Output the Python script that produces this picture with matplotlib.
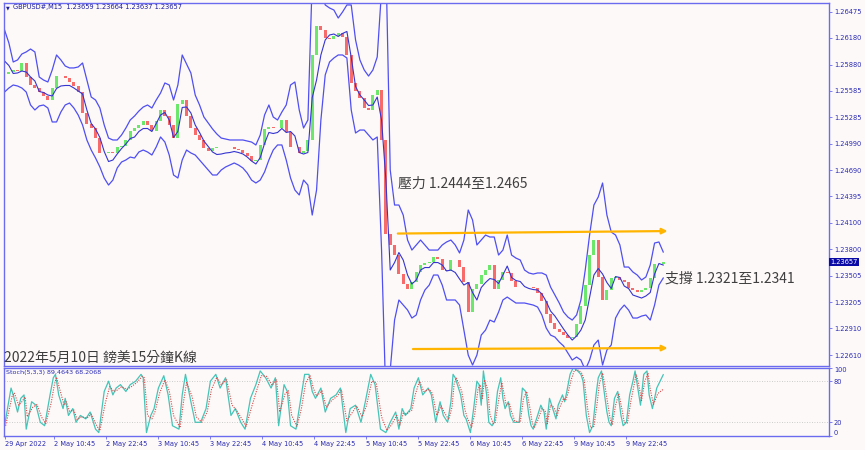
import matplotlib
matplotlib.use("Agg")
import matplotlib.pyplot as plt
from matplotlib.transforms import blended_transform_factory
import numpy as np

plt.rcParams['font.family'] = ['DejaVu Sans']

# GBPUSD M15, one sample per hour (every 4th bar)
bar_step = 4
closes = [
    1.25774, 1.25796, 1.25819, 1.25808, 1.25898, 1.25740, 1.25650, 1.25616, 1.25571, 1.25526,
    1.25481, 1.25616, 1.25751, 1.25751, 1.25729, 1.25684, 1.25639, 1.25571, 1.25335, 1.25211,
    1.25166, 1.25053, 1.24885, 1.24885, 1.24896, 1.24885, 1.24952, 1.24963, 1.25031, 1.25132,
    1.25166, 1.25200, 1.25245, 1.25200, 1.25132, 1.25245, 1.25369, 1.25301, 1.25200, 1.25053,
    1.25436, 1.25481, 1.25301, 1.25166, 1.25087, 1.25031, 1.24941, 1.24907, 1.24941, 1.24952,
    1.24952, 1.24952, 1.24952, 1.24930, 1.24918, 1.24885, 1.24851, 1.24794, 1.24806, 1.24975,
    1.25155, 1.25177, 1.25166, 1.25166, 1.25256, 1.25121, 1.24952, 1.24952, 1.24885, 1.24907,
    1.25031, 1.25988, 1.26314, 1.26269, 1.26179, 1.26168, 1.26202, 1.26235, 1.26190, 1.25988,
    1.25673, 1.25583, 1.25504, 1.25391, 1.25369, 1.25537, 1.25594, 1.25031, 1.23973, 1.23849,
    1.23736, 1.23522, 1.23410, 1.23353, 1.23432, 1.23545, 1.23624, 1.23646, 1.23657, 1.23714,
    1.23691, 1.23567, 1.23556, 1.23680, 1.23680, 1.23601, 1.23432, 1.23095, 1.23353, 1.23410,
    1.23511, 1.23567, 1.23624, 1.23353, 1.23455, 1.23545, 1.23534, 1.23444, 1.23376, 1.23376,
    1.23376, 1.23376, 1.23365, 1.23308, 1.23218, 1.23072, 1.22971, 1.22903, 1.22869, 1.22836,
    1.22802, 1.22813, 1.22959, 1.23162, 1.23398, 1.23736, 1.23905, 1.23489, 1.23230, 1.23342,
    1.23477, 1.23489, 1.23455, 1.23432, 1.23365, 1.23342, 1.23320, 1.23342, 1.23365, 1.23477,
    1.23635, 1.23635, 1.23657]

upper_band = [
    1.26269, 1.26123, 1.25909, 1.25932, 1.25999, 1.26022, 1.26055, 1.26022, 1.25740, 1.25706,
    1.25684, 1.25819, 1.25988, 1.25932, 1.25864, 1.25842, 1.25842, 1.25853, 1.25898, 1.25706,
    1.25515, 1.25481, 1.25391, 1.25200, 1.25053, 1.25031, 1.25031, 1.25087, 1.25166, 1.25256,
    1.25301, 1.25357, 1.25402, 1.25425, 1.25391, 1.25481, 1.25560, 1.25673, 1.25650, 1.25481,
    1.25650, 1.25988, 1.25887, 1.25785, 1.25537, 1.25425, 1.25290, 1.25222, 1.25155, 1.25098,
    1.25053, 1.25042, 1.25031, 1.25031, 1.25031, 1.25031, 1.25020, 1.25008, 1.24975, 1.25087,
    1.25312, 1.25425, 1.25290, 1.25256, 1.25346, 1.25425, 1.25650, 1.25684, 1.25369, 1.25166,
    1.25256, 1.26832, 1.26945, 1.26720, 1.26551, 1.26517, 1.26494, 1.26404, 1.26472, 1.26551,
    1.26551, 1.26157, 1.25932, 1.25819, 1.25751, 1.25819, 1.25965, 1.26720, 1.27057, 1.24693,
    1.24299, 1.24299, 1.24186, 1.23905, 1.23792, 1.23849, 1.23905, 1.23849, 1.23792, 1.23792,
    1.23792, 1.23849, 1.23883, 1.23905, 1.23849, 1.23759, 1.23905, 1.24243, 1.24130, 1.23849,
    1.23905, 1.23961, 1.23939, 1.23939, 1.23736, 1.23792, 1.23961, 1.23736, 1.23702, 1.23680,
    1.23567, 1.23534, 1.23522, 1.23534, 1.23534, 1.23511, 1.23376, 1.23286, 1.23196, 1.23094,
    1.23038, 1.23004, 1.23061, 1.23230, 1.23567, 1.23961, 1.24299, 1.24389, 1.24547, 1.24186,
    1.23995, 1.23961, 1.23849, 1.23601, 1.23601, 1.23545, 1.23511, 1.23455, 1.23489, 1.23624,
    1.23871, 1.23883, 1.23770]

lower_band = [
    1.25571, 1.25616, 1.25650, 1.25639, 1.25616, 1.25571, 1.25425, 1.25369, 1.25414, 1.25425,
    1.25391, 1.25234, 1.25234, 1.25346, 1.25425, 1.25447, 1.25391, 1.25312, 1.25200, 1.25031,
    1.24918, 1.24828, 1.24727, 1.24603, 1.24524, 1.24580, 1.24716, 1.24783, 1.24806, 1.24839,
    1.24828, 1.24896, 1.24918, 1.24896, 1.24862, 1.24952, 1.25065, 1.25008, 1.24862, 1.24637,
    1.24603, 1.24806, 1.24918, 1.24885, 1.24862, 1.24806, 1.24749, 1.24693, 1.24637, 1.24637,
    1.24693, 1.24727, 1.24749, 1.24772, 1.24749, 1.24716, 1.24659, 1.24580, 1.24547, 1.24580,
    1.24671, 1.24806, 1.24918, 1.24975, 1.24975, 1.24806, 1.24603, 1.24468, 1.24412, 1.24580,
    1.24524, 1.24186, 1.24468, 1.25256, 1.25763, 1.25909, 1.25954, 1.25988, 1.25988, 1.25954,
    1.25369, 1.25110, 1.25143, 1.25143, 1.25087, 1.25031, 1.25065, 1.23792, 1.22104, 1.22442,
    1.23004, 1.23230, 1.23173, 1.23117, 1.23027, 1.23061, 1.23230, 1.23342, 1.23398, 1.23511,
    1.23511, 1.23398, 1.23230, 1.23230, 1.23230, 1.23173, 1.22892, 1.22610, 1.22498, 1.22610,
    1.22835, 1.22892, 1.23004, 1.22982, 1.23094, 1.23230, 1.23263, 1.23230, 1.23196, 1.23196,
    1.23196, 1.23185, 1.23173, 1.23151, 1.23061, 1.22914, 1.22835, 1.22813, 1.22757, 1.22712,
    1.22633, 1.22554, 1.22588, 1.22554, 1.22442, 1.22554, 1.22723, 1.22779, 1.22498, 1.22667,
    1.22723, 1.23027, 1.23117, 1.23173, 1.23117, 1.23027, 1.23027, 1.23049, 1.23061, 1.23004,
    1.23173, 1.23398, 1.23477]

# Stochastic(5,3,3): (bar index, value)
stoch_main = [
    (0, 15), (6, 70), (8, 60), (12, 35), (15, 55), (18, 60), (20, 10), (25, 50), (29, 45), (33, 20),
    (37, 15), (42, 60), (45, 85), (47, 90), (50, 60), (54, 40), (56, 55), (59, 30), (63, 40), (66, 20),
    (70, 30), (75, 25), (79, 35), (84, 10), (87, 5), (92, 65), (96, 80), (100, 60), (103, 70), (107, 75),
    (112, 65), (116, 75), (121, 80), (126, 90), (128, 85), (131, 5), (135, 30), (138, 40), (142, 70), (147, 88),
    (151, 60), (155, 15), (161, 10), (164, 60), (167, 90), (172, 50), (176, 20), (181, 20), (186, 40), (190, 80),
    (195, 90), (199, 70), (204, 85), (209, 30), (213, 40), (218, 20), (222, 10), (227, 55), (232, 75), (236, 95),
    (241, 85), (246, 70), (250, 85), (253, 15), (258, 75), (261, 65), (264, 15), (269, 10), (273, 50), (277, 90),
    (281, 90), (284, 65), (287, 55), (292, 70), (296, 35), (301, 55), (306, 60), (310, 70), (315, 5), (319, 40),
    (324, 45), (329, 20), (333, 50), (338, 90), (342, 75), (347, 10), (352, 5), (356, 20), (361, 35), (364, 10),
    (367, 40), (370, 30), (375, 40), (378, 70), (382, 85), (386, 60), (391, 70), (394, 60), (398, 20), (402, 50),
    (405, 30), (409, 20), (412, 50), (414, 90), (416, 85), (421, 60), (424, 30), (426, 25), (430, 5), (433, 40),
    (436, 80), (438, 75), (440, 45), (442, 95), (445, 60), (447, 20), (450, 15), (452, 20), (455, 65), (458, 85),
    (460, 55), (462, 40), (465, 50), (467, 30), (470, 20), (475, 20), (478, 70), (481, 65), (484, 30), (486, 15),
    (488, 10), (491, 25), (495, 45), (498, 35), (500, 10), (503, 55), (506, 40), (509, 25), (511, 45), (515, 60),
    (517, 50), (519, 65), (522, 90), (525, 100), (529, 95), (532, 90), (534, 80), (537, 30), (540, 5), (543, 15),
    (546, 60), (548, 85), (551, 95), (553, 70), (556, 35), (558, 20), (560, 15), (563, 55), (566, 65), (569, 30),
    (571, 15), (574, 20), (577, 60), (580, 80), (582, 95), (584, 75), (587, 45), (590, 90), (593, 95), (595, 60),
    (598, 40), (602, 70), (608, 89.46)]

stoch_signal = [
    (1, 15), (7, 58), (9, 63), (13, 45), (16, 50), (19, 57), (21, 28), (26, 42), (30, 46), (34, 28),
    (38, 18), (43, 48), (46, 75), (48, 86), (51, 68), (55, 45), (57, 50), (60, 36), (64, 38), (67, 24),
    (71, 28), (76, 26), (80, 32), (85, 15), (88, 8), (93, 48), (97, 72), (101, 65), (104, 67), (108, 72),
    (113, 68), (117, 72), (122, 78), (127, 87), (129, 85), (132, 30), (136, 25), (139, 36), (143, 62), (148, 82),
    (152, 66), (156, 30), (162, 12), (165, 48), (168, 78), (173, 58), (177, 28), (182, 20), (187, 35), (191, 68),
    (196, 86), (200, 75), (205, 82), (210, 45), (214, 38), (219, 25), (223, 14), (228, 42), (233, 68), (237, 88),
    (242, 87), (247, 74), (251, 82), (254, 35), (259, 62), (262, 66), (265, 30), (270, 14), (274, 40), (278, 78),
    (282, 88), (285, 70), (288, 58), (293, 66), (297, 42), (302, 52), (307, 58), (311, 67), (316, 22), (320, 32),
    (325, 44), (330, 28), (334, 44), (339, 80), (343, 78), (348, 28), (353, 8), (357, 16), (362, 30), (365, 16),
    (368, 33), (371, 32), (376, 38), (379, 60), (383, 80), (387, 65), (392, 68), (395, 62), (399, 30), (403, 44),
    (406, 34), (410, 24), (413, 42), (415, 76), (417, 85), (422, 65), (425, 38), (427, 27), (431, 12), (434, 32),
    (437, 68), (439, 75), (441, 55), (443, 82), (446, 68), (448, 32), (451, 18), (453, 20), (456, 52), (459, 78),
    (461, 62), (463, 45), (466, 48), (468, 35), (471, 22), (476, 20), (479, 55), (482, 65), (485, 40), (487, 20),
    (489, 12), (492, 22), (496, 40), (499, 37), (501, 18), (504, 45), (507, 42), (510, 30), (512, 40), (516, 55),
    (518, 52), (520, 62), (523, 82), (526, 96), (530, 96), (533, 91), (535, 82), (538, 42), (541, 12), (544, 14),
    (547, 48), (549, 76), (552, 92), (554, 75), (557, 45), (559, 25), (561, 17), (564, 45), (567, 62), (570, 38),
    (572, 20), (575, 19), (578, 50), (581, 74), (583, 90), (585, 78), (588, 52), (591, 80), (594, 92), (596, 68),
    (599, 46), (603, 62), (608, 68.21)]

price_ticks = [1.26475, 1.26180, 1.25880, 1.25585, 1.25285, 1.24990, 1.24690,
               1.24395, 1.24100, 1.23800, 1.23505, 1.23205, 1.22910, 1.22610]
time_tick_bars = [0, 46, 94, 142, 190, 238, 286, 334, 382, 430, 478, 526, 574]
time_tick_labels = ['29 Apr 2022', '2 May 10:45', '2 May 22:45', '3 May 10:45', '3 May 22:45',
                    '4 May 10:45', '4 May 22:45', '5 May 10:45', '5 May 22:45', '6 May 10:45',
                    '6 May 22:45', '9 May 10:45', '9 May 22:45']
last_price = 1.23657

# hand drawn support / resistance arrows: (bar, price) start -> end
resistance_arrow = [(363, 1.23978), (612, 1.24006)]
support_arrow = [(377, 1.22678), (612, 1.22689)]

W, H = 865, 450
def rect(l, t, r, b):
    return [l / W, 1 - b / H, (r - l) / W, (b - t) / H]

bg = '#fdf9f8'
frame = '#6b6bef'
txtblue = '#2a2ab4'

fig = plt.figure(figsize=(W / 100, H / 100), dpi=100, facecolor=bg)
ax = fig.add_axes(rect(4, 3, 829, 366), facecolor=bg)
axs = fig.add_axes(rect(4, 367.5, 829, 436), facecolor=bg, sharex=ax)

# candles
x = np.arange(len(closes)) * bar_step
c = np.array(closes)
o = np.concatenate([[c[0]], c[:-1]])
up = c >= o
ax.bar(x[up], (c - o)[up], bottom=o[up], width=2.6, color='#6be86b', linewidth=0)
ax.bar(x[~up], (o - c)[~up], bottom=c[~up], width=2.6, color='#f76b6b', linewidth=0)

# bollinger bands
ub = np.array(upper_band)
lb = np.array(lower_band)
ax.plot(x, ub, color='#4f4ff2', lw=0.9)
ax.plot(x, lb, color='#4f4ff2', lw=0.9)
ax.plot(x, (ub + lb) / 2, color='#3535d0', lw=0.8)

for (x0, y0), (x1, y1) in [resistance_arrow, support_arrow]:
    ax.annotate('', xy=(x1, y1), xytext=(x0, y0),
                arrowprops=dict(arrowstyle='-|>', color='#ffb400', lw=1.6, mutation_scale=8,
                                shrinkA=0, shrinkB=0))

cjk = ['Noto Sans CJK TC', 'DejaVu Sans']
ax.text(363, 1.24541, '壓力 1.2444至1.2465', family=cjk, fontsize=10, color='#404040', va='center')
ax.text(610, 1.23472, '支撐 1.2321至1.2341', family=cjk, fontsize=10, color='#404040', va='center')
ax.text(0.0, 0.004, '2022年5月10日 鎊美15分鐘K線', transform=ax.transAxes, family=cjk,
        fontsize=10, color='#3c3c3c', va='bottom', ha='left')

ax.set_xlim(-0.5, 761)
ax.set_ylim(1.22487, 1.26573)
ax.yaxis.tick_right()
ax.set_yticks(price_ticks)
ax.set_yticklabels(['%.5f' % p for p in price_ticks])
ax.tick_params(axis='y', length=2, width=0.6, color=frame, labelsize=4.8, labelcolor=txtblue, pad=1.5)
ax.tick_params(axis='x', bottom=False, labelbottom=False)

tr = blended_transform_factory(ax.transAxes, ax.transData)
ax.text(1.002, last_price, '%.5f' % last_price, transform=tr, fontsize=4.8, color='white',
        va='center', ha='left', bbox=dict(boxstyle='square,pad=0.2', fc='#0a0aa6', ec='none'))

# stochastic
sx, sv = zip(*stoch_main)
gx, gv = zip(*stoch_signal)
axs.axhline(80, color='#bdbdbd', lw=0.6, ls=(0, (1, 2)))
axs.axhline(20, color='#bdbdbd', lw=0.6, ls=(0, (1, 2)))
axs.plot(sx, sv, color='#45c4b8', lw=0.9)
axs.plot(gx, gv, color='#e04545', lw=0.8, ls=(0, (1, 1.2)))
axs.set_ylim(0, 100)
axs.yaxis.tick_right()
axs.set_yticks([0, 20, 80, 100])
axs.set_yticklabels(['0', '20', '80', '100'])
axs.tick_params(axis='y', length=2, width=0.6, color=frame, labelsize=4.8, labelcolor=txtblue, pad=1.5)
labs = axs.get_yticklabels()
labs[0].set_va('bottom')
labs[3].set_va('top')
axs.set_xticks(time_tick_bars)
axs.set_xticklabels(time_tick_labels, ha='left')
axs.tick_params(axis='x', length=2, width=0.6, color=frame, labelsize=4.8, labelcolor=txtblue, pad=1.5)
axs.text(0.002, 0.97, 'Stoch(5,3,3) 89.4643 68.2068', transform=axs.transAxes, fontsize=4.6,
         color=txtblue, va='top', ha='left')

for a in (ax, axs):
    for s in a.spines.values():
        s.set_color(frame)
        s.set_linewidth(1.0)

fig.text(6 / W, 1 - 7.5 / H, '▼', fontsize=3.5, color='#1c1ca0', va='center', ha='left')
fig.text(13 / W, 1 - 7.5 / H, 'GBPUSD#,M15  1.23659 1.23664 1.23637 1.23657', fontsize=4.8,
         color='#1c1ca0', va='center', ha='left')

fig.savefig('out.png', dpi=100, facecolor=bg)
